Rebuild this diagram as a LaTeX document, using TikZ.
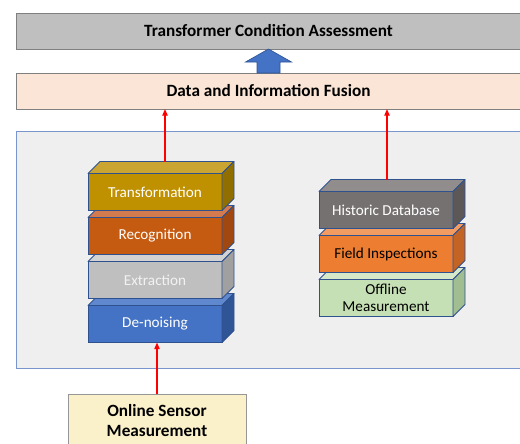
\documentclass[tikz,border=0pt]{standalone}
\usepackage{fontspec}
\setmainfont{Carlito}
\usetikzlibrary{arrows.meta,calc}

% slab colours: front, top, side
\definecolor{transF}{RGB}{191,144,0}
\definecolor{transT}{RGB}{203,165,50}
\definecolor{transS}{RGB}{145,110,0}
\definecolor{recogF}{RGB}{197,90,17}
\definecolor{recogT}{RGB}{211,122,78}
\definecolor{recogS}{RGB}{160,72,15}
\definecolor{extrF}{RGB}{191,191,191}
\definecolor{extrT}{RGB}{210,210,210}
\definecolor{extrS}{RGB}{160,160,160}
\definecolor{noiseF}{RGB}{68,114,196}
\definecolor{noiseT}{RGB}{96,136,206}
\definecolor{noiseS}{RGB}{47,85,151}
\definecolor{histF}{RGB}{118,113,113}
\definecolor{histT}{RGB}{146,141,141}
\definecolor{histS}{RGB}{92,88,88}
\definecolor{fieldF}{RGB}{237,125,49}
\definecolor{fieldT}{RGB}{242,156,98}
\definecolor{fieldS}{RGB}{196,100,36}
\definecolor{offF}{RGB}{197,224,180}
\definecolor{offT}{RGB}{214,233,201}
\definecolor{offS}{RGB}{160,190,146}
\definecolor{lightink}{RGB}{242,242,242}

\begin{document}
\begin{tikzpicture}[x=0.75pt,y=0.75pt,yscale=-1,xscale=1,
  bar/.style={draw={rgb,255:red,127;green,127;blue,127},line width=0.75pt,minimum width=378.75pt,minimum height=27pt,inner sep=0pt,outer sep=0pt,font=\bfseries\fontsize{12.9}{15}\selectfont},
  slab/.style={draw={rgb,255:red,47;green,82;blue,143},line width=0.6pt,minimum width=100.5pt,minimum height=27.75pt,inner sep=0pt,outer sep=0pt,align=center,font=\fontsize{11.4}{13}\selectfont},
  slabline/.style={draw={rgb,255:red,47;green,82;blue,143},line width=0.6pt,line join=round},
  feed/.style={draw={rgb,255:red,255;green,0;blue,0},line width=1pt,-{Triangle[length=5pt,width=4pt]}}
]
\useasboundingbox (0,0) rectangle (520,443);
\clip (0,0) rectangle (520,443);

%Shape: Rectangle [panel]
\draw [color={rgb, 255:red, 120; green, 150; blue, 205 }, fill={rgb, 255:red, 239; green, 239; blue, 239 }, line width=0.75pt] (16,131) rectangle (530,368);

% Text Node
\node (assess) [bar, fill={rgb, 255:red, 191; green, 191; blue, 191 }] at (268.5,31) {Transformer Condition Assessment};
% Text Node
\node (fusion) [bar, fill={rgb, 255:red, 251; green, 229; blue, 214 }] at (268.5,91) {Data and Information Fusion};

%Shape: Up Arrow (blue, fusion -> assessment)
\draw [color={rgb, 255:red, 47; green, 85; blue, 151 }, fill={rgb, 255:red, 68; green, 114; blue, 196 }, line width=0.5pt, line join=miter]
  ($(fusion.north)+(-11.5,0)$) -- ++(0,-11) -- ++(-11.5,0) -- (assess.south) -- ++(23,13) -- ++(-11.5,0) -- ++(0,11) -- cycle;

%Stacks of slabs, drawn bottom to top
\foreach \n/\px/\py/\txt/\c/\ink in {
    noise/155/324/De-noising/noise/white,
    extr/155/280/Extraction/extr/lightink,
    recog/155/236/Recognition/recog/white,
    trans/155/192/Transformation/trans/white,
    off/386/298/{Offline\\Measurement}/off/black,
    field/386/254/Field Inspections/field/black,
    hist/386/210/Historic Database/hist/white} {
  \node (\n) [slab, fill=\c F, text=\ink] at (\px,\py) {\txt};
  \draw [slabline, fill=\c T] (\n.north west) -- ++(12,-12) -- ++(134,0) -- (\n.north east) -- cycle;
  \draw [slabline, fill=\c S] (\n.north east) -- ++(12,-12) -- ++(0,37) -- (\n.south east) -- cycle;
}

% Text Node
\node (online) [draw={rgb, 255:red, 150; green, 150; blue, 150 }, fill={rgb, 255:red, 250; green, 240; blue, 202 }, line width=0.75pt, minimum width=133.5pt, minimum height=40pt, inner sep=0pt, outer sep=0pt, anchor=north, align=center, font=\bfseries\fontsize{12.9}{15}\selectfont] at (157,394) {Online Sensor\\Measurement};

%Straight Lines [red feeds]
\coordinate (transback) at ($(trans.north)+(10,-12)$);
\coordinate (histback) at ($(hist.north)+(1,-12)$);
\draw [feed] (transback) -- (fusion.south -| transback);
\draw [feed] (histback) -- (fusion.south -| histback);
\draw [feed] (online.north) -- (online.north |- noise.south);

\end{tikzpicture}
\end{document}
